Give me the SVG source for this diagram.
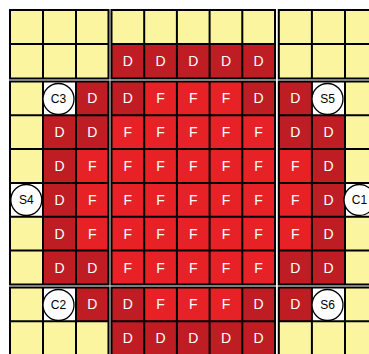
<svg xmlns="http://www.w3.org/2000/svg" width="369" height="354" viewBox="0 0 369 354">
<style>
.y{fill:#FAF59E}
.d{fill:#BE1D23}
.f{fill:#E62227}
.w{fill:#FFFFFF}
.g{fill:none;stroke:#000;stroke-width:2}
.t{font-family:"Liberation Sans",Arial,sans-serif;font-size:14px;fill:#fff;text-anchor:middle}
.c{fill:#fff;stroke:#000;stroke-width:1.3}
.l{font-family:"Liberation Sans",Arial,sans-serif;font-size:12px;fill:#000;text-anchor:middle}
</style>
<rect x="0" y="0" width="369" height="354" fill="#fff"/>
<line x1="110" y1="10" x2="110" y2="355" stroke="#cccccc" stroke-width="1"/>

<!-- block fills -->
<g id="fills">
<!-- A1 -->
<rect class="y" x="10" y="10" width="98.5" height="68.5"/>
<!-- B1 -->
<rect class="y" x="111.5" y="10" width="163.5" height="34"/>
<rect class="d" x="111.5" y="44" width="163.5" height="34.5"/>
<!-- C1 -->
<rect class="y" x="278.8" y="10" width="99.2" height="68.5"/>
<!-- A2 -->
<rect class="y" x="10" y="81.5" width="33" height="203"/>
<rect class="w" x="10" y="183" width="33" height="33.8"/>
<rect class="d" x="43" y="81.5" width="65.5" height="203"/>
<rect class="w" x="43" y="81.5" width="33" height="33.8"/>
<rect class="f" x="76" y="149.1" width="32.5" height="101.5"/>
<!-- B2 -->
<rect class="f" x="111.5" y="81.5" width="163.5" height="203"/>
<rect class="d" x="111.5" y="81.5" width="32.7" height="33.8"/>
<rect class="d" x="242.3" y="81.5" width="32.7" height="33.8"/>
<!-- C2 -->
<rect class="d" x="278.8" y="81.5" width="66.2" height="203"/>
<rect class="w" x="311.9" y="81.5" width="33.1" height="33.8"/>
<rect class="f" x="278.8" y="149.1" width="33.1" height="101.5"/>
<rect class="y" x="345" y="81.5" width="33" height="203"/>
<rect class="w" x="345" y="183" width="33" height="33.8"/>
<!-- A3 -->
<rect class="y" x="10" y="287.5" width="98.5" height="67.5"/>
<rect class="w" x="43" y="287.5" width="33" height="33.7"/>
<rect class="d" x="76" y="287.5" width="32.5" height="33.7"/>
<!-- B3 -->
<rect class="d" x="111.5" y="287.5" width="163.5" height="67.5"/>
<rect class="f" x="144.2" y="287.5" width="98.1" height="33.7"/>
<!-- C3 -->
<rect class="y" x="278.8" y="287.5" width="99.2" height="67.5"/>
<rect class="d" x="278.8" y="287.5" width="33.1" height="33.7"/>
<rect class="w" x="311.9" y="287.5" width="33.1" height="33.7"/>
</g>

<!-- grid lines -->
<g id="grid">
<path class="g" d="M10 10H108.5V78.5H10Z M43 10V78.5 M76 10V78.5 M10 44H108.5"/>
<path class="g" d="M111.5 10H275V78.5H111.5Z M144.2 10V78.5 M176.9 10V78.5 M209.6 10V78.5 M242.3 10V78.5 M111.5 44H275"/>
<path class="g" d="M278.8 10H378V78.5H278.8Z M311.9 10V78.5 M345 10V78.5 M278.8 44H378"/>
<path class="g" d="M10 81.5H108.5V284.5H10Z M43 81.5V284.5 M76 81.5V284.5 M10 115.3H108.5 M10 149.1H108.5 M10 183H108.5 M10 216.8H108.5 M10 250.6H108.5"/>
<path class="g" d="M111.5 81.5H275V284.5H111.5Z M144.2 81.5V284.5 M176.9 81.5V284.5 M209.6 81.5V284.5 M242.3 81.5V284.5 M111.5 115.3H275 M111.5 149.1H275 M111.5 183H275 M111.5 216.8H275 M111.5 250.6H275"/>
<path class="g" d="M278.8 81.5H378V284.5H278.8Z M311.9 81.5V284.5 M345 81.5V284.5 M278.8 115.3H378 M278.8 149.1H378 M278.8 183H378 M278.8 216.8H378 M278.8 250.6H378"/>
<path class="g" d="M10 287.5H108.5V355H10Z M43 287.5V355 M76 287.5V355 M10 321.2H108.5"/>
<path class="g" d="M111.5 287.5H275V355H111.5Z M144.2 287.5V355 M176.9 287.5V355 M209.6 287.5V355 M242.3 287.5V355 M111.5 321.2H275"/>
<path class="g" d="M278.8 287.5H378V355H278.8Z M311.9 287.5V355 M345 287.5V355 M278.8 321.2H378"/>
</g>

<!-- cell letters -->
<g id="letters" class="t">
<!-- row1 -->
<text x="127.85" y="66.25">D</text><text x="160.55" y="66.25">D</text><text x="193.25" y="66.25">D</text><text x="225.95" y="66.25">D</text><text x="258.65" y="66.25">D</text>
<!-- row2 -->
<text x="92.25" y="103.4">D</text>
<text x="127.85" y="103.4">D</text><text x="160.55" y="103.4">F</text><text x="193.25" y="103.4">F</text><text x="225.95" y="103.4">F</text><text x="258.65" y="103.4">D</text>
<text x="295.35" y="103.4">D</text>
<!-- row3 -->
<text x="59.5" y="137.2">D</text><text x="92.25" y="137.2">D</text>
<text x="127.85" y="137.2">F</text><text x="160.55" y="137.2">F</text><text x="193.25" y="137.2">F</text><text x="225.95" y="137.2">F</text><text x="258.65" y="137.2">F</text>
<text x="295.35" y="137.2">D</text><text x="328.45" y="137.2">D</text>
<!-- row4 -->
<text x="59.5" y="171.05">D</text><text x="92.25" y="171.05">F</text>
<text x="127.85" y="171.05">F</text><text x="160.55" y="171.05">F</text><text x="193.25" y="171.05">F</text><text x="225.95" y="171.05">F</text><text x="258.65" y="171.05">F</text>
<text x="295.35" y="171.05">F</text><text x="328.45" y="171.05">D</text>
<!-- row5 -->
<text x="59.5" y="204.9">D</text><text x="92.25" y="204.9">F</text>
<text x="127.85" y="204.9">F</text><text x="160.55" y="204.9">F</text><text x="193.25" y="204.9">F</text><text x="225.95" y="204.9">F</text><text x="258.65" y="204.9">F</text>
<text x="295.35" y="204.9">F</text><text x="328.45" y="204.9">D</text>
<!-- row6 -->
<text x="59.5" y="238.7">D</text><text x="92.25" y="238.7">F</text>
<text x="127.85" y="238.7">F</text><text x="160.55" y="238.7">F</text><text x="193.25" y="238.7">F</text><text x="225.95" y="238.7">F</text><text x="258.65" y="238.7">F</text>
<text x="295.35" y="238.7">F</text><text x="328.45" y="238.7">D</text>
<!-- row7 -->
<text x="59.5" y="272.55">D</text><text x="92.25" y="272.55">D</text>
<text x="127.85" y="272.55">F</text><text x="160.55" y="272.55">F</text><text x="193.25" y="272.55">F</text><text x="225.95" y="272.55">F</text><text x="258.65" y="272.55">F</text>
<text x="295.35" y="272.55">D</text><text x="328.45" y="272.55">D</text>
<!-- row8 -->
<text x="92.25" y="309.35">D</text>
<text x="127.85" y="309.35">D</text><text x="160.55" y="309.35">F</text><text x="193.25" y="309.35">F</text><text x="225.95" y="309.35">F</text><text x="258.65" y="309.35">D</text>
<text x="295.35" y="309.35">D</text>
<!-- row9 -->
<text x="127.85" y="343.1">D</text><text x="160.55" y="343.1">D</text><text x="193.25" y="343.1">D</text><text x="225.95" y="343.1">D</text><text x="258.65" y="343.1">D</text>
</g>

<g id="C3"><circle class="c" cx="58.5" cy="99" r="15.5"/><text class="l" x="58.5" y="103.3">C3</text></g>
<g id="S5"><circle class="c" cx="327.5" cy="99" r="15.5"/><text class="l" x="327.5" y="103.3">S5</text></g>
<g id="S4"><circle class="c" cx="26.3" cy="200" r="15.5"/><text class="l" x="26.3" y="204.3">S4</text></g>
<g id="C1"><circle class="c" cx="359.5" cy="200" r="15.5"/><text class="l" x="359.5" y="204.3">C1</text></g>
<g id="C2"><circle class="c" cx="58.5" cy="305" r="15.5"/><text class="l" x="58.5" y="309.3">C2</text></g>
<g id="S6"><circle class="c" cx="327.5" cy="305" r="15.5"/><text class="l" x="327.5" y="309.3">S6</text></g>
</svg>
